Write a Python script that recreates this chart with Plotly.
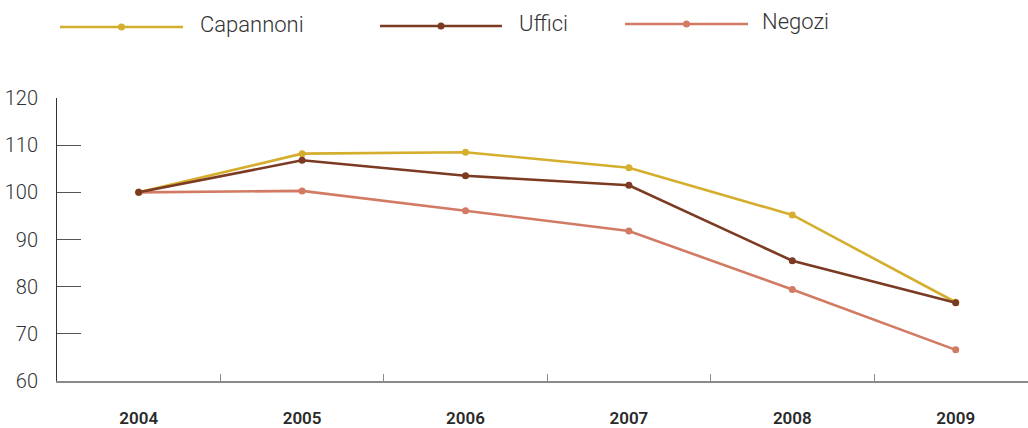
import plotly.graph_objects as go

# Index values (2004 = 100)
years = ["2004", "2005", "2006", "2007", "2008", "2009"]
capannoni = [100, 108.2, 108.5, 105.2, 95.2, 76.7]
uffici = [100, 106.8, 103.5, 101.5, 85.5, 76.6]
negozi = [100, 100.3, 96.1, 91.8, 79.4, 66.6]

series = [
    ("Negozi", negozi, "#d27a63"),
    ("Capannoni", capannoni, "#d4ae2c"),
    ("Uffici", uffici, "#7b3a22"),
]

W, H = 1028, 428
ML, MR, MT, MB = 57, 0, 98, 43
PW, PH = W - ML - MR, H - MT - MB


def px_x(px):
    return (px - ML) / PW


def px_y(py):
    return (H - MB - py) / PH


fig = go.Figure()
for name, vals, col in series:
    fig.add_trace(go.Scatter(
        x=years, y=vals, mode="lines+markers", name=name,
        line=dict(color=col, width=2.6),
        marker=dict(color=col, size=7),
        showlegend=False, cliponaxis=False,
    ))

# Custom legend row across the top
legend_items = [
    ("Capannoni", "#d4ae2c", 60, 183, 26, 200),
    ("Uffici", "#7b3a22", 380, 502, 25, 519),
    ("Negozi", "#d27a63", 625, 748, 23, 762),
]
shapes = []
annotations = []
for name, col, x0, x1, yy, tx in legend_items:
    shapes.append(dict(type="line", xref="paper", yref="paper",
                       x0=px_x(x0), x1=px_x(x1), y0=px_y(yy), y1=px_y(yy),
                       line=dict(color=col, width=2.5)))
    xm = px_x((x0 + x1) / 2)
    shapes.append(dict(type="circle", xref="paper", yref="paper",
                       xsizemode="pixel", ysizemode="pixel",
                       xanchor=xm, yanchor=px_y(yy),
                       x0=-3.5, x1=3.5, y0=-3.5, y1=3.5,
                       fillcolor=col, line=dict(width=0)))
    annotations.append(dict(xref="paper", yref="paper", x=px_x(tx - 2), y=px_y(yy - 3),
                            text=name, showarrow=False, xanchor="left", yanchor="middle",
                            font=dict(family="Roboto", size=22, color="#333333", weight=300)))

fig.update_layout(
    width=W, height=H,
    margin=dict(l=ML, r=MR, t=MT, b=MB, pad=0),
    paper_bgcolor="white", plot_bgcolor="white",
    shapes=shapes, annotations=annotations,
    showlegend=False,
)
fig.update_xaxes(
    type="category", range=[-0.5, -0.5 + PW / 163.4],
    showline=True, linecolor="#8a8a8a", linewidth=2,
    ticks="inside", tickson="boundaries", ticklen=7, tickcolor="#8a8a8a", tickwidth=1,
    showgrid=False, zeroline=False,
    tickfont=dict(family="Roboto", size=17, color="#2a2a2a", weight=600),
    ticklabelstandoff=21,
)
fig.update_yaxes(
    range=[60, 120], dtick=10, tick0=60,
    showline=True, linecolor="#333333", linewidth=1,
    ticks="inside", ticklen=24, tickcolor="#555555", tickwidth=1,
    showgrid=False, zeroline=False,
    tickfont=dict(family="Roboto", size=20, color="#333333", weight=300),
    ticklabelstandoff=14,
)

fig.write_html("out.html")
